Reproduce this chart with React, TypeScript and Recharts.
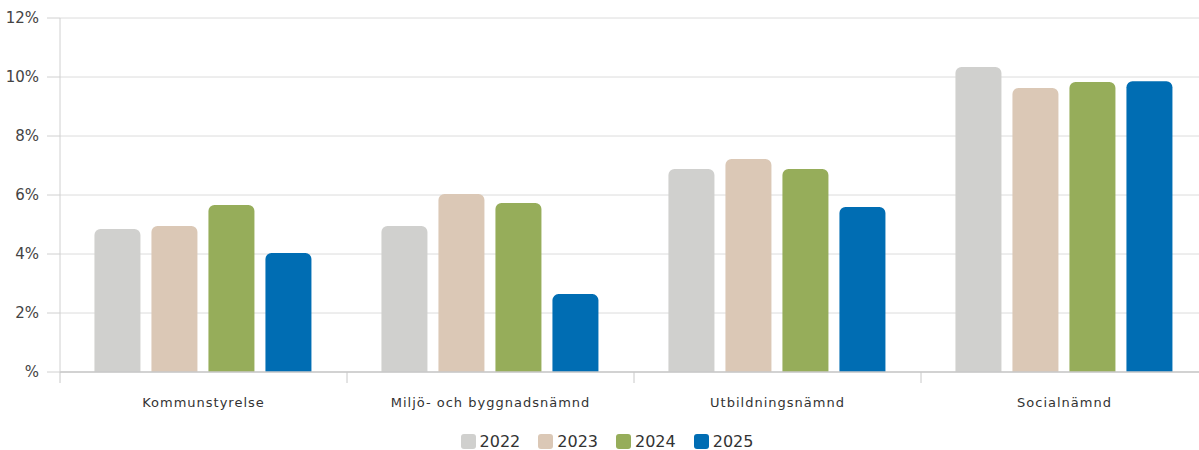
import React from "react";
import { BarChart, Bar, XAxis, YAxis, CartesianGrid, Legend } from "recharts";

const categories = ["Kommunstyrelse", "Miljö- och byggnadsnämnd", "Utbildningsnämnd", "Socialnämnd"];
const years = ["2022", "2023", "2024", "2025"];
const v2022 = [4.85, 4.95, 6.88, 10.34];
const v2023 = [4.95, 6.03, 7.22, 9.63];
const v2024 = [5.66, 5.73, 6.88, 9.83];
const v2025 = [4.03, 2.64, 5.59, 9.86];
const yTicks = [0, 2, 4, 6, 8, 10, 12];
const colors = ["#d0d0ce", "#dbc8b6", "#96ad5a", "#006db3"];

const data = categories.map((c, i) => ({
  name: c,
  "2022": v2022[i],
  "2023": v2023[i],
  "2024": v2024[i],
  "2025": v2025[i],
}));

const font = "'DejaVu Sans', Verdana, sans-serif";
const TICK_SIZE = 11;
const TICK_MARGIN = 15;

const CategoryTick = (props: any) => {
  const { x, y, payload, index, visibleTicksCount } = props;
  const half = payload && typeof payload.offset === "number" ? payload.offset : 0;
  const axisY = y - TICK_MARGIN - TICK_SIZE;
  return (
    <g>
      {half > 0 && (
        <line x1={x - half} x2={x - half} y1={axisY} y2={axisY + TICK_SIZE} stroke="#c8c8c8" />
      )}
      {half > 0 && index === visibleTicksCount - 1 && (
        <line x1={x + half} x2={x + half} y1={axisY} y2={axisY + TICK_SIZE} stroke="#c8c8c8" />
      )}
      <text x={x} y={y} dy="0.71em" textAnchor="middle" fill="#333" fontSize={13} fontFamily={font} letterSpacing={1}>
        {payload.value}
      </text>
    </g>
  );
};

const LegendContent = () => (
  <div style={{ display: "flex", justifyContent: "center", alignItems: "center", fontFamily: font, fontSize: 16, color: "#333", paddingLeft: 46, paddingTop: 4 }}>
    {years.map((y, i) => (
      <div key={y} style={{ display: "flex", alignItems: "center", margin: "0 9px" }}>
        <span style={{ display: "inline-block", width: 15, height: 15, borderRadius: 3, background: colors[i], marginRight: 4 }} />
        <span>{y}</span>
      </div>
    ))}
  </div>
);

export default function App() {
  return (
    <div style={{ position: "fixed", left: 0, top: 0, width: 1199, height: 450, overflow: "hidden", background: "#fff" }}>
      <div style={{ position: "absolute", left: -40, top: 0 }}>
        <BarChart
          width={1250}
          height={450}
          data={data}
          margin={{ top: 18, right: 2, bottom: 0, left: 0 }}
          barCategoryGap="12%"
          barGap={11}
        >
          <CartesianGrid horizontal vertical={false} stroke="#dcdcdc" />
          <XAxis
            dataKey="name"
            tickLine={false}
            axisLine={{ stroke: "#c8c8c8", strokeWidth: 1.5 }}
            tickSize={TICK_SIZE}
            tickMargin={TICK_MARGIN}
            height={56}
            tick={<CategoryTick />}
            interval={0}
          />
          <YAxis
            width={100}
            domain={[0, 12]}
            ticks={yTicks}
            tickFormatter={(v: number) => (v === 0 ? "%" : `${v}%`)}
            axisLine={{ stroke: "#d0d0d0" }}
            tickLine={{ stroke: "#d0d0d0" }}
            tickSize={13}
            tickMargin={8}
            tick={{ fill: "#444", fontSize: 15, fontFamily: font }}
          />
          <Legend verticalAlign="bottom" height={22} content={<LegendContent />} />
          {years.map((y, i) => (
            <Bar key={y} dataKey={y} fill={colors[i]} radius={[6, 6, 0, 0]} isAnimationActive={false} />
          ))}
        </BarChart>
      </div>
    </div>
  );
}
